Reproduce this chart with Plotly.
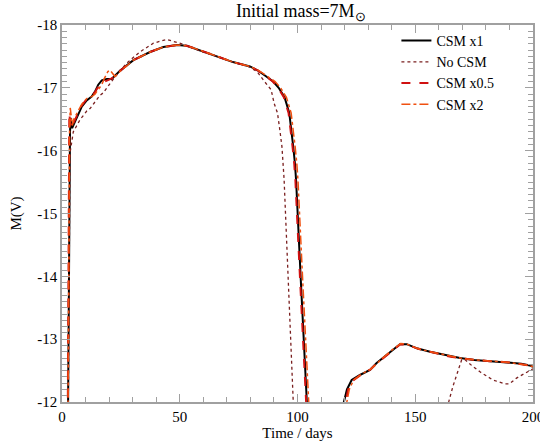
import plotly.graph_objects as go

# CSM x1 (black solid) - plateau and drop, then the tail
t_csm1_a = [2.5, 2.7, 3.0, 3.4, 3.7, 4.3, 5.0, 6.2, 8.4, 10.5, 12.6, 14.0, 15.4, 16.9, 19.0, 21.1, 24.6, 30.3, 37.4,
            43.0, 48.8, 53.0, 60.0, 66.0, 72.6, 79.8, 83.0, 86.0, 89.7, 92.0, 94.5, 96.5, 97.5, 98.2, 98.9, 99.4,
            101.4, 103.9, 104.5]
m_csm1_a = [-11.5, -12.5, -15.5, -16.3, -16.52, -16.36, -16.42, -16.52, -16.7, -16.8, -16.86, -16.94, -17.05, -17.12,
            -17.14, -17.14, -17.27, -17.44, -17.57, -17.65, -17.68, -17.67, -17.58, -17.5, -17.41, -17.34, -17.28,
            -17.2, -17.1, -17.0, -16.85, -16.6, -16.33, -16.06, -15.8, -15.53, -13.94, -12.0, -11.6]
t_csm1_b = [118.8, 119.7, 121.0, 123.0, 126.5, 130.8, 133.6, 136.3, 140.0, 143.5, 146.4, 151.0, 156.3, 160.5, 165.0,
            169.0, 175.0, 181.7, 190.0, 195.0, 198.7, 200.0]
m_csm1_b = [-11.8, -12.0, -12.2, -12.35, -12.43, -12.51, -12.62, -12.7, -12.82, -12.92, -12.92, -12.85, -12.8, -12.77,
            -12.73, -12.7, -12.67, -12.65, -12.63, -12.61, -12.58, -12.56]

# No CSM (dotted)
t_nocsm_a = [2.6, 3.0, 3.4, 4.8, 6.3, 7.6, 10.5, 11.9, 16.1, 17.5, 21.8, 27.4, 33.0, 38.8, 44.4, 50.0, 55.7, 60.0,
             66.0, 72.6, 79.8, 83.0, 86.0, 88.8, 90.1, 91.5, 92.5, 93.4, 94.3, 96.2, 98.2, 98.6]
m_nocsm_a = [-11.5, -14.0, -15.96, -16.3, -16.4, -16.49, -16.63, -16.67, -16.88, -16.92, -17.14, -17.39, -17.57,
             -17.71, -17.77, -17.71, -17.63, -17.57, -17.5, -17.41, -17.33, -17.25, -17.1, -16.97, -16.75, -16.6,
             -16.33, -16.06, -15.55, -13.94, -12.0, -11.6]
t_nocsm_b = [163.8, 164.2, 166.0, 168.2, 169.7, 171.0, 174.0, 177.5, 183.0, 188.0, 190.0, 193.0, 196.0, 198.7, 200.0]
m_nocsm_b = [-11.8, -12.0, -12.25, -12.5, -12.67, -12.68, -12.58, -12.48, -12.35, -12.29, -12.29, -12.38, -12.44,
             -12.5, -12.53]

# CSM x0.5 (dashed)
t_half_a = [2.4, 2.6, 2.8, 3.1, 3.5, 4.3, 5.0, 6.2, 8.4, 10.5, 12.6, 14.0, 15.4, 16.9, 19.0, 21.1, 24.6, 30.3, 37.4,
            43.0, 48.8, 53.0, 60.0, 66.0, 72.6, 79.8, 83.0, 86.0, 89.5, 91.8, 94.2, 96.2, 97.2, 97.9, 98.6, 99.1,
            101.1, 103.6, 104.2]
m_half_a = [-11.5, -13.0, -15.8, -16.6, -16.45, -16.35, -16.45, -16.55, -16.72, -16.82, -16.87, -16.93, -17.02,
            -17.08, -17.12, -17.15, -17.27, -17.44, -17.57, -17.65, -17.68, -17.67, -17.58, -17.5, -17.41, -17.34,
            -17.28, -17.2, -17.1, -17.0, -16.85, -16.6, -16.33, -16.06, -15.8, -15.53, -13.94, -12.0, -11.6]
t_half_b = [119.4, 120.3, 121.5, 123.5, 126.8, 131.0, 133.8, 136.5, 140.2, 143.7, 146.6, 151.0, 156.3, 160.5, 165.0,
            169.0, 175.0, 181.7, 190.0, 195.0, 198.7, 200.0]
m_half_b = [-11.8, -12.0, -12.2, -12.34, -12.43, -12.52, -12.62, -12.7, -12.82, -12.92, -12.91, -12.85, -12.8, -12.76,
            -12.72, -12.7, -12.67, -12.65, -12.63, -12.6, -12.58, -12.56]

# CSM x2 (dash-dot)
t_two_a = [2.5, 2.8, 3.2, 3.5, 4.0, 4.4, 5.0, 6.2, 8.4, 10.5, 12.6, 14.0, 15.5, 16.9, 18.0, 19.5, 20.4, 21.5, 22.5,
           24.6, 30.3, 37.4, 43.0, 48.8, 53.0, 60.0, 66.0, 72.6, 79.8, 83.3, 86.5, 90.5, 92.8, 95.3, 97.3, 98.3,
           99.0, 99.7, 100.2, 102.2, 104.7, 105.3]
m_two_a = [-11.5, -14.0, -16.3, -16.68, -16.5, -16.4, -16.5, -16.58, -16.74, -16.83, -16.86, -16.9, -16.98, -17.05,
           -17.15, -17.26, -17.28, -17.22, -17.18, -17.26, -17.44, -17.57, -17.65, -17.68, -17.67, -17.58, -17.5,
           -17.41, -17.34, -17.28, -17.2, -17.1, -17.0, -16.85, -16.6, -16.33, -16.06, -15.8, -15.53, -13.94,
           -12.0, -11.6]
t_two_b = [119.9, 120.8, 122.0, 123.8, 127.0, 131.0, 133.8, 136.5, 140.2, 143.8, 146.6, 151.0, 156.3, 160.5, 165.0,
           169.0, 175.0, 181.7, 190.0, 195.0, 198.7, 200.0]
m_two_b = [-11.8, -12.0, -12.2, -12.35, -12.44, -12.52, -12.62, -12.71, -12.83, -12.93, -12.92, -12.85, -12.8,
           -12.77, -12.73, -12.7, -12.67, -12.65, -12.63, -12.6, -12.58, -12.56]

y_ticks = [-18, -17, -16, -15, -14, -13, -12]
y_labels = ['-18', '-17', '-16', '-15', '-14', '-13', '-12']
x_ticks = [0, 50, 100, 150, 200]

series = [
    ('CSM x1', t_csm1_a, m_csm1_a, t_csm1_b, m_csm1_b, 'black', 'solid', 2),
    ('No CSM', t_nocsm_a, m_nocsm_a, t_nocsm_b, m_nocsm_b, '#7a1f1f', 'dot', 1.3),
    ('CSM x0.5', t_half_a, m_half_a, t_half_b, m_half_b, '#d01010', 'dash', 2),
    ('CSM x2', t_two_a, m_two_a, t_two_b, m_two_b, '#f05010', 'dashdot', 1.5),
]

fig = go.Figure()
for name, ta, ma, tb, mb, col, dash, w in series:
    fig.add_trace(go.Scatter(x=ta + [None] + tb, y=ma + [None] + mb, mode='lines', name=name,
                             line=dict(color=col, dash=dash, width=w), connectgaps=False))

# invisible trace so the mirrored top/right axes get drawn with their minor ticks
fig.add_trace(go.Scatter(x=[0, 200], y=[-12, -18], xaxis='x2', yaxis='y2', mode='lines',
                         line=dict(width=0), showlegend=False, hoverinfo='skip'))

grey = '#a0a0a0'
axis_style = dict(showline=True, linecolor=grey, linewidth=1.5, ticks='inside', tickcolor=grey, tickwidth=1,
                  ticklen=8, showgrid=False, zeroline=False, automargin=False, ticklabeloverflow='allow',
                  tickfont=dict(size=15, color='black'))

fig.update_layout(
    width=540, height=442,
    margin=dict(l=62, r=7, t=25, b=40),
    plot_bgcolor='white', paper_bgcolor='white',
    font=dict(family='Liberation Serif', size=15, color='black'),
    title=dict(text='Initial mass=7M<sub>⊙</sub>', x=0.557, xanchor='center', y=0.975, yanchor='middle',
               font=dict(size=18)),
    legend=dict(x=0.71, y=1.0, xanchor='left', yanchor='top', bgcolor='rgba(0,0,0,0)',
                font=dict(size=14), tracegroupgap=0, itemwidth=30),
    showlegend=True,
    xaxis=dict(range=[0, 200], tickvals=x_ticks, title=dict(text='Time / days', font=dict(size=15), standoff=0),
               minor=dict(dtick=10, ticklen=5, ticks='inside', tickcolor=grey), **axis_style),
    yaxis=dict(range=[-12, -18], tickvals=y_ticks, ticktext=y_labels,
               title=dict(text='M(V)', font=dict(size=15), standoff=12),
               minor=dict(dtick=0.1, ticklen=5, ticks='inside', tickcolor=grey), **axis_style),
    xaxis2=dict(range=[0, 200], tickvals=x_ticks, overlaying='x', side='top', anchor='y', showticklabels=False,
                minor=dict(dtick=10, ticklen=5, ticks='inside', tickcolor=grey), **axis_style),
    yaxis2=dict(range=[-12, -18], tickvals=y_ticks, overlaying='y', side='right', anchor='x', showticklabels=False,
                minor=dict(dtick=0.1, ticklen=5, ticks='inside', tickcolor=grey), **axis_style),
)

# the page body has a default 8px margin; remove it so the figure sits at the window corner
fig.write_html("out.html", config={'displayModeBar': False},
               post_script="document.body.style.margin='0';")
